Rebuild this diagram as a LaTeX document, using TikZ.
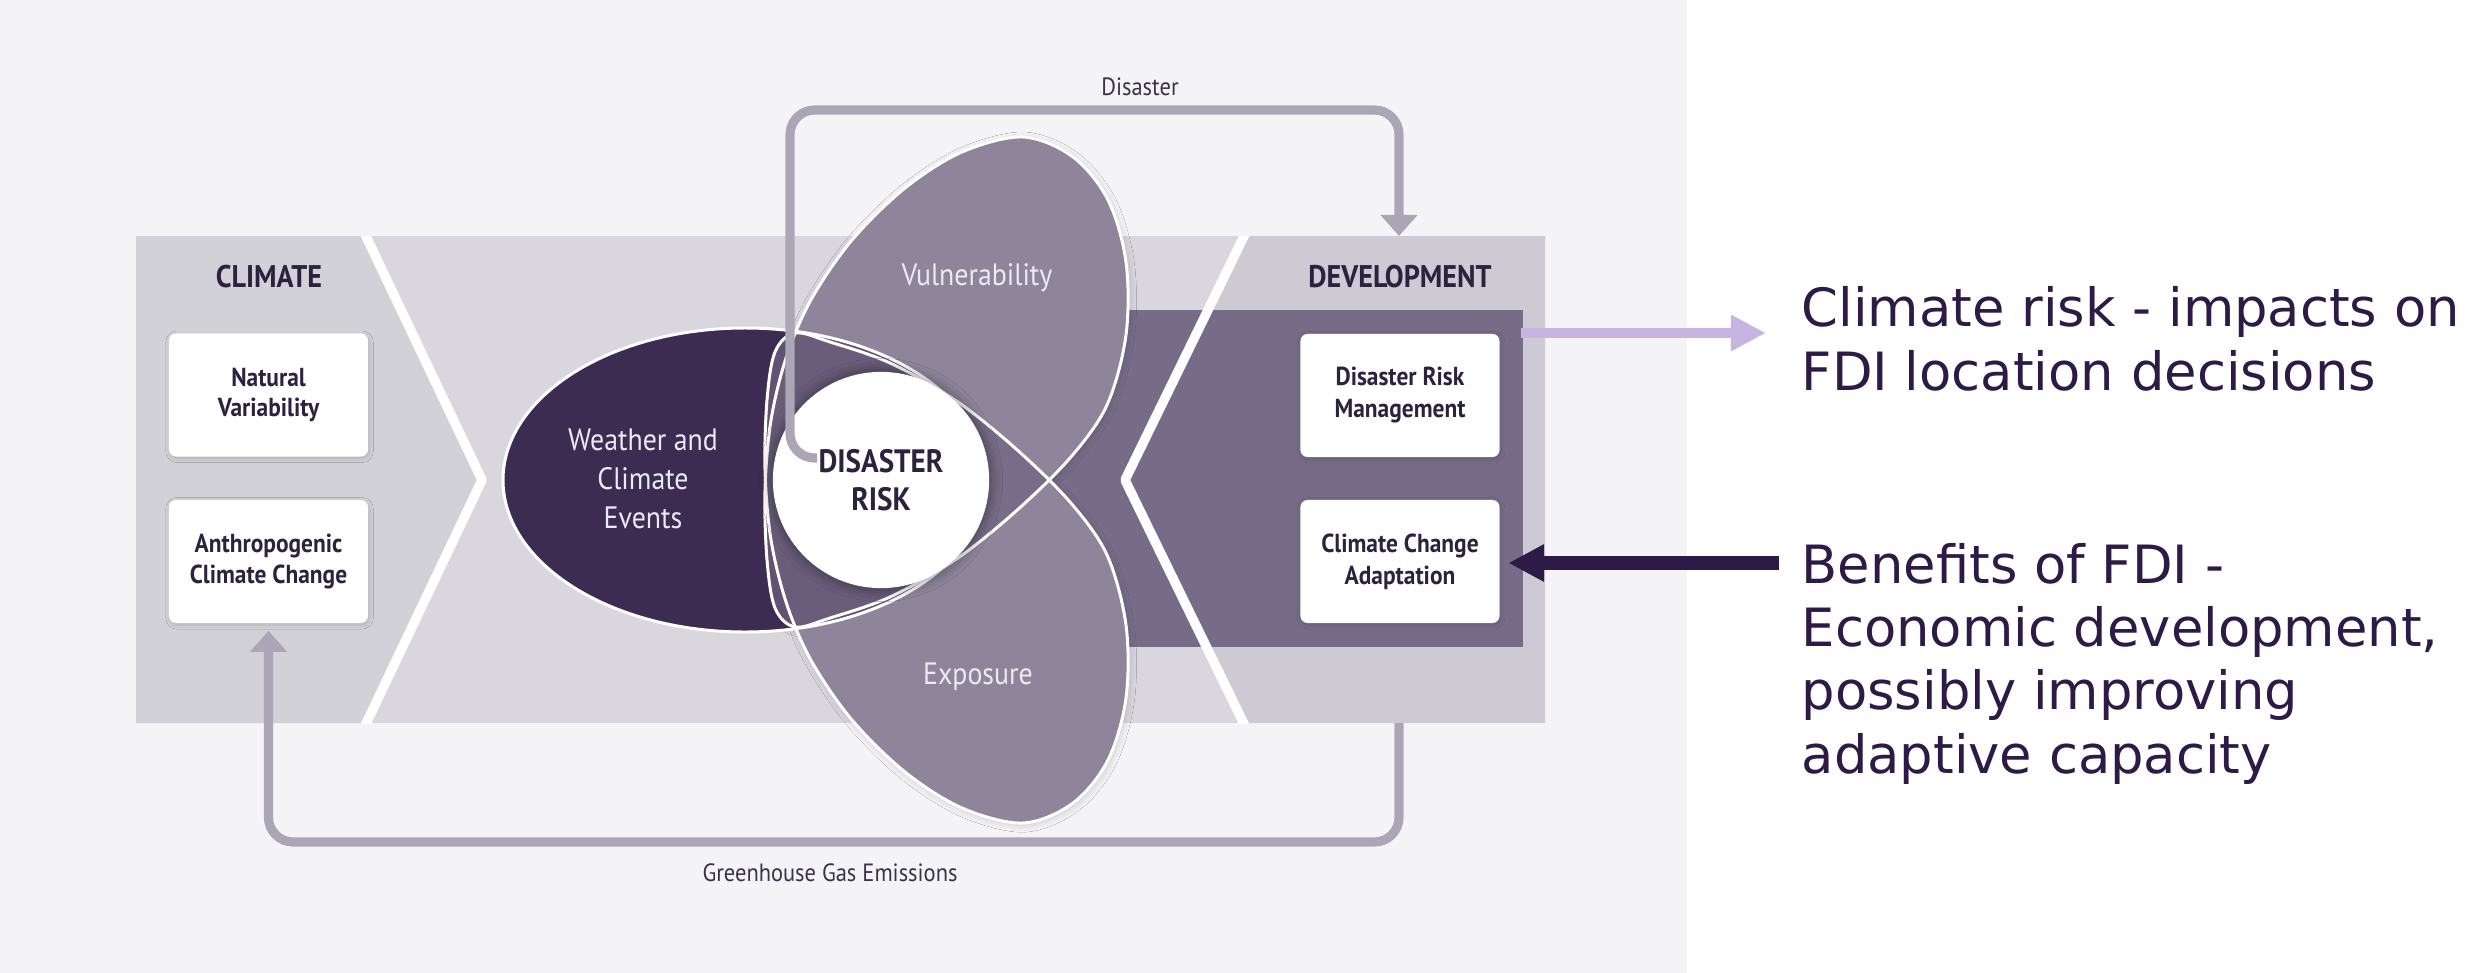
\documentclass[tikz,border=0pt]{standalone}
\usepackage{fontspec}
\setmainfont{DejaVu Sans}
\newfontfamily\cf[FakeStretch=0.9]{PT Sans}
\usetikzlibrary{arrows.meta,shadows.blur}
\definecolor{bgL}{HTML}{F4F4F6}
\definecolor{bandM}{HTML}{D9D7DD}
\definecolor{bandL}{HTML}{D3D1D8}
\definecolor{bandR}{HTML}{CDCAD3}
\definecolor{devD}{HTML}{776C88}
\definecolor{wthr}{HTML}{3D2C52}
\definecolor{petal}{HTML}{6F6380}
\definecolor{arr}{HTML}{ABA6B6}
\definecolor{txtD}{HTML}{2B2240}
\definecolor{lblD}{HTML}{3A3348}
\definecolor{fdi}{HTML}{2E1A47}
\definecolor{lav}{HTML}{C8B4E0}
\definecolor{lbl}{HTML}{ECE9F1}
\def\vulnpath{plot[smooth cycle, tension=0.55] coordinates {(1023,137) (1073,157) (1108,200) (1126,262) (1126,335) (1107,405) (1070,458) (1015,512) (955,560) (890,597) (830,618) (795,627) (775,608) (767,560) (765,490) (771,420) (787,355) (812,298) (852,240) (905,188) (962,152)}}
\begin{document}
\begin{tikzpicture}[x=0.01cm,y=-0.01cm,
  box/.style={fill=white, rounded corners=2pt, minimum width=56.6pt, minimum height=35pt, inner sep=0pt, align=center, text=txtD, font=\cf\bfseries\fontsize{7.4}{8.6}\selectfont, blur shadow={shadow xshift=0.3pt, shadow yshift=-0.5pt, shadow blur radius=1.2pt, shadow blur steps=5, shadow opacity=16}},
  petallbl/.style={text=lbl, font=\cf\fontsize{8.8}{11.1}\selectfont, align=center, inner sep=0pt},
  head/.style={text=txtD, font=\cf\bfseries\fontsize{8.9}{10}\selectfont, inner sep=0pt},
  flowlbl/.style={text=lblD, font=\cf\fontsize{7.1}{8}\selectfont, inner sep=0pt},
  flow/.style={draw=arr, line width=2.6pt, rounded corners=7pt},
  chev/.style={draw=white, line width=2.7pt, line join=round},
  outl/.style={draw=white, line width=0.85pt},
  pshadow/.style={blur shadow={shadow xshift=0.4pt, shadow yshift=-0.6pt, shadow blur radius=2pt, shadow blur steps=6, shadow opacity=18}},
  fditxt/.style={text=fdi, font=\fontsize{15}{18}\selectfont, align=left, inner sep=0pt, anchor=base west},
]
\useasboundingbox (0,0) rectangle (2476,973);
\fill[white] (0,0) rectangle (2476,973);
\fill[bgL] (0,0) rectangle (1687,973);
% band
\fill[bandM] (136,236) rectangle (1545,723);
\fill[bandL] (136,236) -- (363,236) -- (482,480) -- (363,723) -- (136,723) -- cycle;
\fill[bandR] (1247,236) -- (1545,236) -- (1545,723) -- (1247,723) -- (1125,480) -- cycle;
\fill[devD] (950,310) rectangle (1523,647);
\begin{scope}
  \clip (136,236) rectangle (1545,723);
  \draw[chev] (363,230) -- (482,480) -- (363,730);
  \draw[chev] (1247,230) -- (1125,480) -- (1247,730);
\end{scope}
% soft shadows of the petals
\path[pshadow] \vulnpath;
\begin{scope}[shift={(0,960)}, yscale=-1]
  \path[pshadow] \vulnpath;
\end{scope}
% petals: erase underneath
\fill[bandM] \vulnpath;
\begin{scope}[shift={(0,960)}, yscale=-1]
  \fill[bandM] \vulnpath;
\end{scope}
% weather ellipse
\fill[wthr] (745,480) ellipse [x radius=242, y radius=152];
% petals
\fill[petal, fill opacity=0.7] \vulnpath;
\begin{scope}[shift={(0,960)}, yscale=-1]
  \fill[petal, fill opacity=0.7] \vulnpath;
\end{scope}
% outlines
\draw[outl] (745,480) ellipse [x radius=242, y radius=152];
\draw[outl] \vulnpath;
\begin{scope}[shift={(0,960)}, yscale=-1]
  \draw[outl] \vulnpath;
\end{scope}
% disaster risk circle
\node[circle, fill=white, minimum size=61.5pt, inner sep=0pt, align=center, text=txtD,
  font=\cf\bfseries\fontsize{9.2}{10.8}\selectfont,
  blur shadow={shadow xshift=0pt, shadow yshift=0pt, shadow scale=1.04, shadow blur radius=2.5pt, shadow opacity=30}]
  (risk) at (881,480) {DISASTER\\RISK};
% labels in shapes
\node[petallbl] (wce) at (643,479) {Weather and\\Climate\\Events};
\node[petallbl] (vul) at (977,278) {Vulnerability};
\node[petallbl] (expo) at (978,677) {Exposure};
% headings
\node[head] (climate) at (269,277) {CLIMATE};
\node[head] (devel) at (1400,277) {DEVELOPMENT};
% boxes
\node[box] (natvar) at (268.5,395) {Natural\\Variability};
\node[box] (anthro) at (268.5,561.5) {Anthropogenic\\Climate Change};
\node[box, font=\cf\bfseries\fontsize{7.4}{9.1}\selectfont] (drm) at (1400,395.5) {Disaster Risk\\Management};
\node[box, font=\cf\bfseries\fontsize{7.4}{9.1}\selectfont] (cca) at (1400,561.5) {Climate Change\\Adaptation};
% flows
\coordinate (dstart) at (817,458);
\coordinate (devtop) at (1399,236);
\coordinate (devbot) at (1399,723);
\draw[flow, -{Triangle[width=10.2pt,length=6pt]}] (dstart) -| (790,110) -| (devtop);
\draw[flow, -{Triangle[width=10.2pt,length=6pt]}, shorten >=2pt] (devbot) -- ++(0,119) -| (anthro.south);
\node[flowlbl] (dislbl) at (1140,87) {Disaster};
\node[flowlbl] (ghglbl) at (830,873) {Greenhouse Gas Emissions};
% right side
\node[fditxt] (crtext) at (1801,390) {Climate risk - impacts on\\FDI location decisions};
\node[fditxt] (bentext) at (1801,773) {Benefits of FDI -\\Economic development,\\possibly improving\\adaptive capacity};
\coordinate (lavs) at (1521,333);
\coordinate (lave) at (1766,333);
\draw[lav, line width=3.1pt, -{Triangle[width=9.7pt,length=10pt]}] (lavs) -- (lave);
\coordinate (bens) at (1779,563);
\draw[fdi, line width=3.7pt, -{Triangle[width=10pt,length=10.2pt]}, shorten >=2.3pt] (bens) -- (cca.east |- bens);
\end{tikzpicture}
\end{document}
